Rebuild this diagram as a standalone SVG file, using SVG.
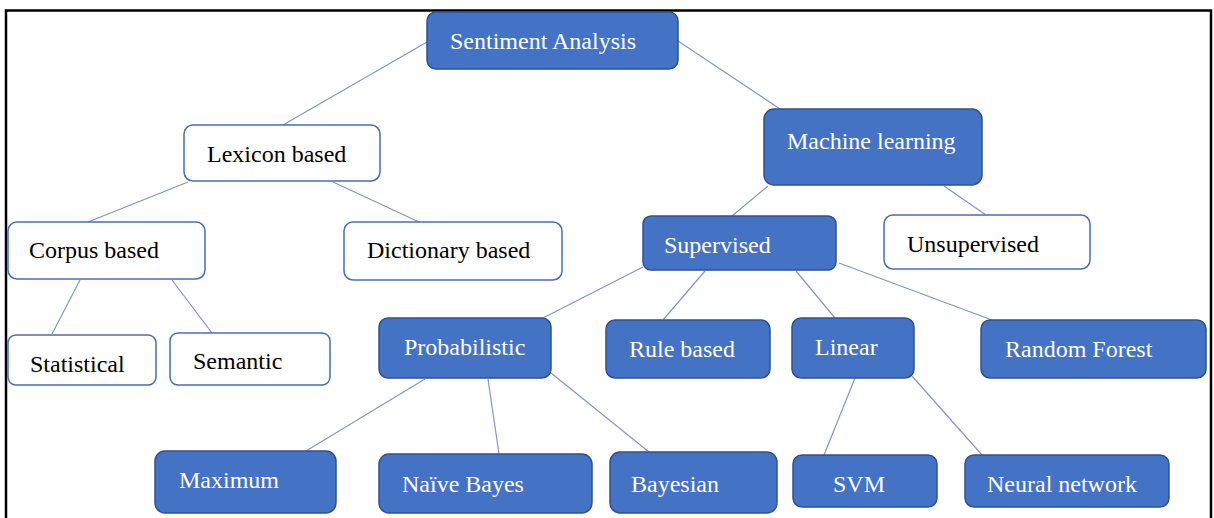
<svg xmlns="http://www.w3.org/2000/svg" width="1214" height="518" viewBox="0 0 1214 518">
<style>
.b{fill:#4472c4;stroke:#2f528f;stroke-width:1.5}
.w{fill:#ffffff;stroke:#4a6db0;stroke-width:1.5}
.tb{font-family:"Liberation Serif","Times New Roman",serif;font-size:24px;fill:#ffffff}
.tw{font-family:"Liberation Serif","Times New Roman",serif;font-size:24px;fill:#000000}
.c line{stroke:#8496c4;stroke-width:1.2}
</style>
<rect x="0" y="0" width="1214" height="518" fill="#ffffff"/>
<path d="M6 520 V10.5 H1211 V520" fill="none" stroke="#000" stroke-width="2.5"/>
<g id="connectors" class="c">
<line x1="427" y1="42" x2="283" y2="125"/>
<line x1="678" y1="41" x2="780" y2="109"/>
<line x1="188" y1="182" x2="88" y2="222"/>
<line x1="333" y1="182" x2="419" y2="222"/>
<line x1="80" y1="280" x2="52" y2="334"/>
<line x1="172" y1="280" x2="212" y2="333"/>
<line x1="768" y1="186" x2="732" y2="216"/>
<line x1="944" y1="186" x2="986" y2="215"/>
<line x1="643" y1="267" x2="543" y2="318"/>
<line x1="705" y1="271" x2="663" y2="320"/>
<line x1="796" y1="271" x2="835" y2="318"/>
<line x1="839" y1="263" x2="992" y2="320"/>
<line x1="425" y1="379" x2="306" y2="451"/>
<line x1="488" y1="379" x2="499" y2="454"/>
<line x1="551" y1="373" x2="649" y2="452"/>
<line x1="855" y1="378" x2="824" y2="455"/>
<line x1="912" y1="376" x2="982" y2="455"/>
</g>
<g id="sentiment-analysis"><rect class="b" x="427" y="12" width="251" height="57" rx="9"/><text class="tb" x="450" y="49">Sentiment Analysis</text></g>
<g id="lexicon-based"><rect class="w" x="184" y="125" width="196" height="56" rx="9"/><text class="tw" x="207" y="162">Lexicon based</text></g>
<g id="machine-learning"><rect class="b" x="764" y="109" width="218" height="76" rx="10"/><text class="tb" x="787" y="149">Machine learning</text></g>
<g id="corpus-based"><rect class="w" x="8" y="222" width="197" height="57" rx="9"/><text class="tw" x="29" y="258">Corpus based</text></g>
<g id="dictionary-based"><rect class="w" x="344" y="222" width="218" height="58" rx="9"/><text class="tw" x="367" y="258">Dictionary based</text></g>
<g id="supervised"><rect class="b" x="643" y="216" width="193" height="54" rx="8"/><text class="tb" x="664" y="253">Supervised</text></g>
<g id="unsupervised"><rect class="w" x="884" y="215" width="206" height="54" rx="9"/><text class="tw" x="907" y="252">Unsupervised</text></g>
<g id="statistical"><rect class="w" x="8" y="335" width="148" height="50" rx="8"/><text class="tw" x="30" y="372">Statistical</text></g>
<g id="semantic"><rect class="w" x="170" y="333" width="160" height="52" rx="8"/><text class="tw" x="193" y="369">Semantic</text></g>
<g id="probabilistic"><rect class="b" x="379" y="318" width="172" height="60" rx="9"/><text class="tb" x="404" y="355">Probabilistic</text></g>
<g id="rule-based"><rect class="b" x="606" y="320" width="164" height="58" rx="9"/><text class="tb" x="629" y="357">Rule based</text></g>
<g id="linear"><rect class="b" x="792" y="318" width="122" height="60" rx="9"/><text class="tb" x="815" y="355">Linear</text></g>
<g id="random-forest"><rect class="b" x="981" y="320" width="225" height="58" rx="9"/><text class="tb" x="1005" y="357">Random Forest</text></g>
<g id="maximum"><rect class="b" x="155" y="451" width="181" height="62" rx="10"/><text class="tb" x="179" y="488">Maximum</text></g>
<g id="naive-bayes"><rect class="b" x="379" y="454" width="213" height="59" rx="10"/><text class="tb" x="402" y="492">Naïve Bayes</text></g>
<g id="bayesian"><rect class="b" x="610" y="452" width="167" height="61" rx="10"/><text class="tb" x="631" y="492">Bayesian</text></g>
<g id="svm"><rect class="b" x="793" y="455" width="144" height="52" rx="9"/><text class="tb" x="833" y="492">SVM</text></g>
<g id="neural-network"><rect class="b" x="965" y="455" width="204" height="52" rx="9"/><text class="tb" x="987" y="492">Neural network</text></g>
</svg>
